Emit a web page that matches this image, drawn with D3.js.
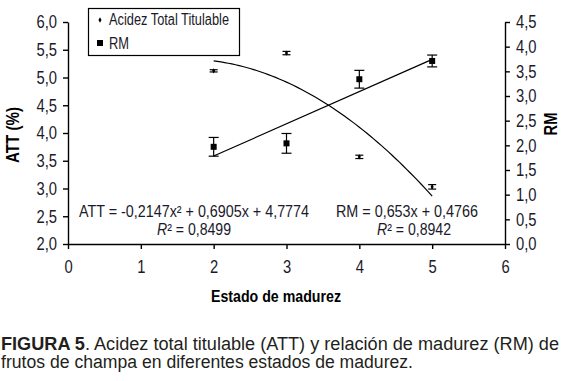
<!DOCTYPE html>
<html>
<head>
<meta charset="utf-8">
<script src="https://cdn.jsdelivr.net/npm/d3@7"></script>
<style>
  body { margin: 0; background: #fff; }
  svg { display: block; font-family: "Liberation Sans", Arial, sans-serif; }
  .axis path, .axis line { stroke: #000; stroke-width: 1.4; }
  .axis text { font-size: 18px; fill: #1a1a2a; font-family: "Liberation Sans", Arial, sans-serif; }
</style>
</head>
<body>
<svg width="563" height="381"></svg>
<script>
// estados de madurez
var estados = [2, 3, 4, 5];
// acidez total titulable (%) and its error
var att = [5.12, 5.44, 3.57, 3.03];
var attErr = [0.02, 0.03, 0.03, 0.04];
// relación de madurez and its error
var rm = [1.97, 2.04, 3.34, 3.71];
var rmErr = [0.19, 0.20, 0.18, 0.12];
// trend coefficients as printed in the chart
var attFit = [-0.2147, 0.6905, 4.7774];
var rmFit = [0.653, 0.4766];

var xTicks = [0, 1, 2, 3, 4, 5, 6];
var attTicks = [2, 2.5, 3, 3.5, 4, 4.5, 5, 5.5, 6];
var rmTicks = [0, 0.5, 1, 1.5, 2, 2.5, 3, 3.5, 4, 4.5];

var svg = d3.select('svg');
var comma = d3.format('.1f');
var fmt = d => comma(d).replace('.', ',');

// no condensed face installed, so squeeze glyphs horizontally
function squeeze(sel, f) {
  sel.each(function() {
    var n = this.getComputedTextLength();
    d3.select(this).attr('textLength', n * f).attr('lengthAdjust', 'spacingAndGlyphs');
  });
}
function fit(sel, w) {
  sel.attr('textLength', w).attr('lengthAdjust', 'spacingAndGlyphs');
}

var x = d3.scaleLinear().domain([0, 6]).range([68, 505]);
var yL = d3.scaleLinear().domain([2, 6]).range([244, 22]);
var yR = d3.scaleLinear().domain([0, 4.5]).range([244, 22]);

svg.append('g')
  .attr('class', 'axis')
  .attr('transform', 'translate(0,244)')
  .call(d3.axisBottom(x).tickValues(xTicks).tickFormat(d3.format('d')).tickSize(5).tickSizeOuter(0).tickPadding(11));

svg.append('g')
  .attr('class', 'axis')
  .attr('transform', 'translate(68,0)')
  .call(d3.axisLeft(yL).tickValues(attTicks).tickFormat(fmt).tickSize(5).tickSizeOuter(0).tickPadding(6));

svg.append('g')
  .attr('class', 'axis')
  .attr('transform', 'translate(505,0)')
  .call(d3.axisRight(yR).tickValues(rmTicks).tickFormat(fmt).tickSize(5).tickSizeOuter(0).tickPadding(6));

squeeze(svg.selectAll('.axis text'), 0.82);

// axis titles
fit(svg.append('text')
  .attr('transform', 'translate(19,135) rotate(-90)')
  .attr('text-anchor', 'middle')
  .style('font-weight', 'bold').style('font-size', '18px')
  .text('ATT (%)'), 56);

fit(svg.append('text')
  .attr('transform', 'translate(557,124) rotate(-90)')
  .attr('text-anchor', 'middle')
  .style('font-weight', 'bold').style('font-size', '18px')
  .text('RM'), 23);

fit(svg.append('text')
  .attr('x', 276).attr('y', 302)
  .attr('text-anchor', 'middle')
  .style('font-weight', 'bold').style('font-size', '17px')
  .text('Estado de madurez'), 130);

// trend lines
var steps = d3.range(2, 5.001, 0.05);
svg.append('path')
  .datum(steps)
  .attr('fill', 'none').attr('stroke', '#000').attr('stroke-width', 1.2)
  .attr('d', d3.line()
    .x(d => x(d))
    .y(d => yL(attFit[0] * d * d + attFit[1] * d + attFit[2])));

svg.append('path')
  .datum([2, 5])
  .attr('fill', 'none').attr('stroke', '#000').attr('stroke-width', 1.2)
  .attr('d', d3.line()
    .x(d => x(d))
    .y(d => yR(rmFit[0] * d + rmFit[1])));

// error bars
function errorBars(vals, errs, y, cap, cls) {
  var g = svg.append('g').attr('class', cls).attr('stroke', '#000').attr('stroke-width', 1.2);
  estados.forEach((e, i) => {
    var cx = x(e), lo = y(vals[i] - errs[i]), hi = y(vals[i] + errs[i]);
    g.append('line').attr('x1', cx).attr('x2', cx).attr('y1', lo).attr('y2', hi);
    g.append('line').attr('x1', cx - cap).attr('x2', cx + cap).attr('y1', lo).attr('y2', lo);
    g.append('line').attr('x1', cx - cap).attr('x2', cx + cap).attr('y1', hi).attr('y2', hi);
  });
}
errorBars(att, attErr, yL, 4, 'att-err');
errorBars(rm, rmErr, yR, 5, 'rm-err');

// markers
svg.selectAll('path.att')
  .data(att)
  .enter()
  .append('path')
    .attr('class', 'att')
    .attr('d', d3.symbol(d3.symbolDiamond, 8))
    .attr('transform', (d, i) => 'translate(' + x(estados[i]) + ',' + yL(d) + ')')
    .attr('fill', '#000');

svg.selectAll('rect.rm')
  .data(rm)
  .enter()
  .append('rect')
    .attr('class', 'rm')
    .attr('x', (d, i) => x(estados[i]) - 3)
    .attr('y', d => yR(d) - 3)
    .attr('width', 6).attr('height', 6)
    .attr('fill', '#000');

// legend
var leg = svg.append('g');
leg.append('rect')
  .attr('x', 88.5).attr('y', 8.5).attr('width', 151).attr('height', 47)
  .attr('fill', '#fff').attr('stroke', '#000').attr('stroke-width', 1.2);
leg.append('path')
  .attr('d', d3.symbol(d3.symbolDiamond, 8))
  .attr('transform', 'translate(100,20)');
fit(leg.append('text').attr('x', 109).attr('y', 25).style('font-size', '16px').attr('fill', '#1a1a2a').text('Acidez Total Titulable'), 120);
leg.append('rect').attr('x', 97).attr('y', 40).attr('width', 6).attr('height', 6);
fit(leg.append('text').attr('x', 109).attr('y', 49).style('font-size', '16px').attr('fill', '#1a1a2a').text('RM'), 20);

// equations
var eq = svg.append('g').style('font-size', '16px').attr('fill', '#1a1a2a');
fit(eq.append('text').attr('x', 79).attr('y', 217).text('ATT = -0,2147x² + 0,6905x + 4,7774'), 230);
var t2 = eq.append('text').attr('x', 157).attr('y', 235);
t2.append('tspan').attr('font-style', 'italic').text('R');
t2.append('tspan').text('² = 0,8499');
fit(t2, 74);
fit(eq.append('text').attr('x', 336).attr('y', 217).text('RM = 0,653x + 0,4766'), 142);
var t3 = eq.append('text').attr('x', 377).attr('y', 235);
t3.append('tspan').attr('font-style', 'italic').text('R');
t3.append('tspan').text('² = 0,8942');
fit(t3, 74);

// caption
var cap = svg.append('g').style('font-size', '18px').attr('fill', '#231f20');
var c1 = cap.append('text').attr('x', 1).attr('y', 350);
c1.append('tspan').style('font-weight', 'bold').text('FIGURA 5');
c1.append('tspan').text('. Acidez total titulable (ATT) y relación de madurez (RM) de');
fit(c1, 558);
fit(cap.append('text').attr('x', 1).attr('y', 368).text('frutos de champa en diferentes estados de madurez.'), 412);
</script>
</body>
</html>
